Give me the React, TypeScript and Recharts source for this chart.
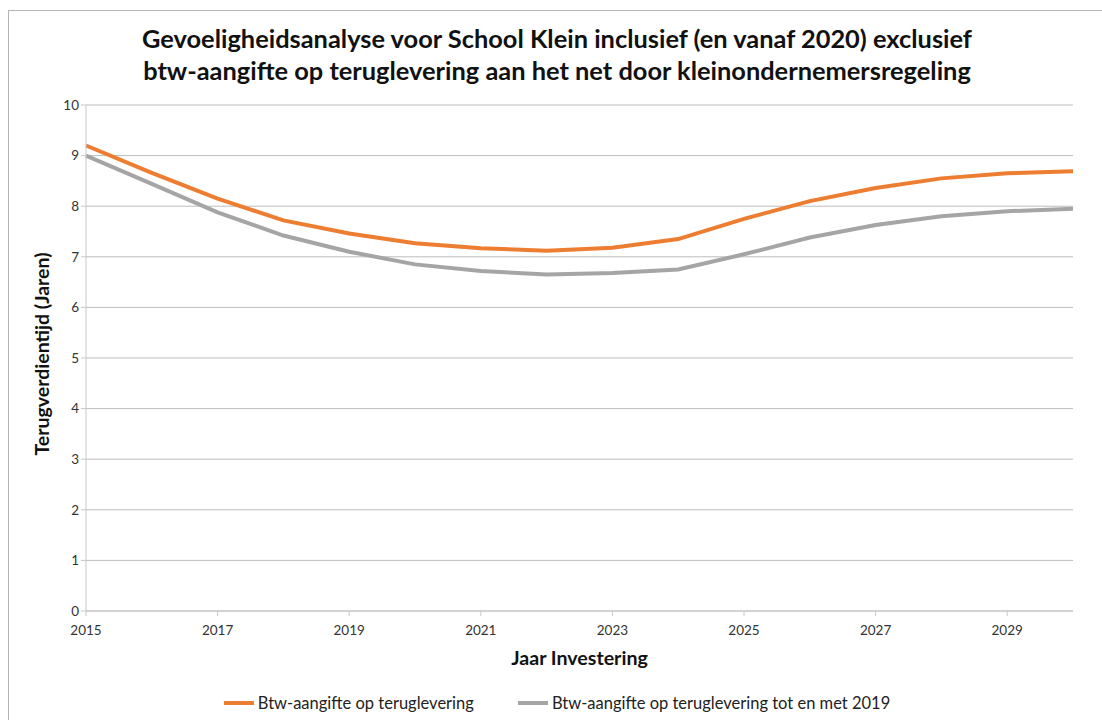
import { LineChart, Line, XAxis, YAxis, CartesianGrid } from 'recharts'

const years = [2015, 2016, 2017, 2018, 2019, 2020, 2021, 2022, 2023, 2024, 2025, 2026, 2027, 2028, 2029, 2030]
const metBtw = [9.2, 8.66, 8.15, 7.72, 7.46, 7.27, 7.17, 7.12, 7.18, 7.35, 7.75, 8.1, 8.36, 8.55, 8.65, 8.69]
const tot2019 = [9.0, 8.44, 7.88, 7.42, 7.1, 6.85, 6.72, 6.65, 6.68, 6.75, 7.05, 7.38, 7.63, 7.8, 7.9, 7.95]
const yTicks = [0, 1, 2, 3, 4, 5, 6, 7, 8, 9, 10]
const xTicks = [2015, 2017, 2019, 2021, 2023, 2025, 2027, 2029]

const seriesNames = ['Btw-aangifte op teruglevering', 'Btw-aangifte op teruglevering tot en met 2019']
const titleLines = [
  'Gevoeligheidsanalyse voor School Klein inclusief (en vanaf 2020) exclusief',
  'btw-aangifte op teruglevering aan het net door kleinondernemersregeling',
]

const data = years.map((y, i) => ({ jaar: y, a: metBtw[i], b: tot2019[i] }))

const FONT = 'Lato, "Open Sans", sans-serif'
const ORANGE = '#ED7D31'
const GRAY = '#A5A5A5'

function LegendBox() {
  const items = [
    { name: seriesNames[0], color: ORANGE },
    { name: seriesNames[1], color: GRAY },
  ]
  return (
    <div style={{ position: 'absolute', left: 0, top: 692, width: 1114, display: 'flex', justifyContent: 'center', gap: 44, fontFamily: FONT, fontSize: 16.5, lineHeight: '22px', color: '#222' }}>
      {items.map(it => (
        <div key={it.name} style={{ display: 'flex', alignItems: 'center' }}>
          <span style={{ display: 'inline-block', width: 30, height: 4, background: it.color, marginRight: 4 }} />
          <span>{it.name}</span>
        </div>
      ))}
    </div>
  )
}

export default function App() {
  return (
    <div style={{ position: 'absolute', left: 0, top: 0, width: 1102, height: 720, background: '#fff', overflow: 'hidden' }}>
      <div style={{ position: 'absolute', left: 8, top: 10, width: 1110, height: 720, border: '1px solid #b4b4b4' }} />
      <div style={{ position: 'absolute', left: 0, top: 22, width: 1114, textAlign: 'center', fontFamily: FONT, fontWeight: 700, fontSize: 25.4, lineHeight: '32px', color: '#111' }}>
        {titleLines.map(t => <div key={t}>{t}</div>)}
      </div>
      <div style={{ position: 'absolute', left: 0, top: 0 }}>
        <LineChart width={1102} height={720} data={data} margin={{ top: 105, right: 29, left: 46, bottom: 79 }}>
          <CartesianGrid vertical={false} stroke="#bdbdbd" strokeWidth={1} />
          <XAxis
            dataKey="jaar"
            type="number"
            domain={[2015, 2030]}
            ticks={xTicks}
            height={30}
            stroke="#c8c8c8"
            tickSize={5}
            tickMargin={9}
            tick={{ fontSize: 13.5, fill: '#333', fontFamily: FONT }}
            label={{ value: 'Jaar Investering', position: 'insideBottom', offset: -24, style: { fontSize: 19.6, fontWeight: 700, fill: '#111', fontFamily: FONT } }}
          />
          <YAxis
            domain={[0, 10]}
            ticks={yTicks}
            width={40}
            stroke="#c8c8c8"
            tickSize={5}
            tick={{ fontSize: 13.5, fill: '#333', fontFamily: FONT }}
            label={{ value: 'Terugverdientijd (Jaren)', angle: -90, position: 'insideLeft', offset: -4, dy: -4, style: { textAnchor: 'middle', fontSize: 19.5, fontWeight: 700, fill: '#111', fontFamily: FONT } }}
          />
          <Line dataKey="a" name={seriesNames[0]} stroke={ORANGE} strokeWidth={4} dot={false} isAnimationActive={false} />
          <Line dataKey="b" name={seriesNames[1]} stroke={GRAY} strokeWidth={4} dot={false} isAnimationActive={false} />
        </LineChart>
      </div>
      <LegendBox />
    </div>
  )
}
